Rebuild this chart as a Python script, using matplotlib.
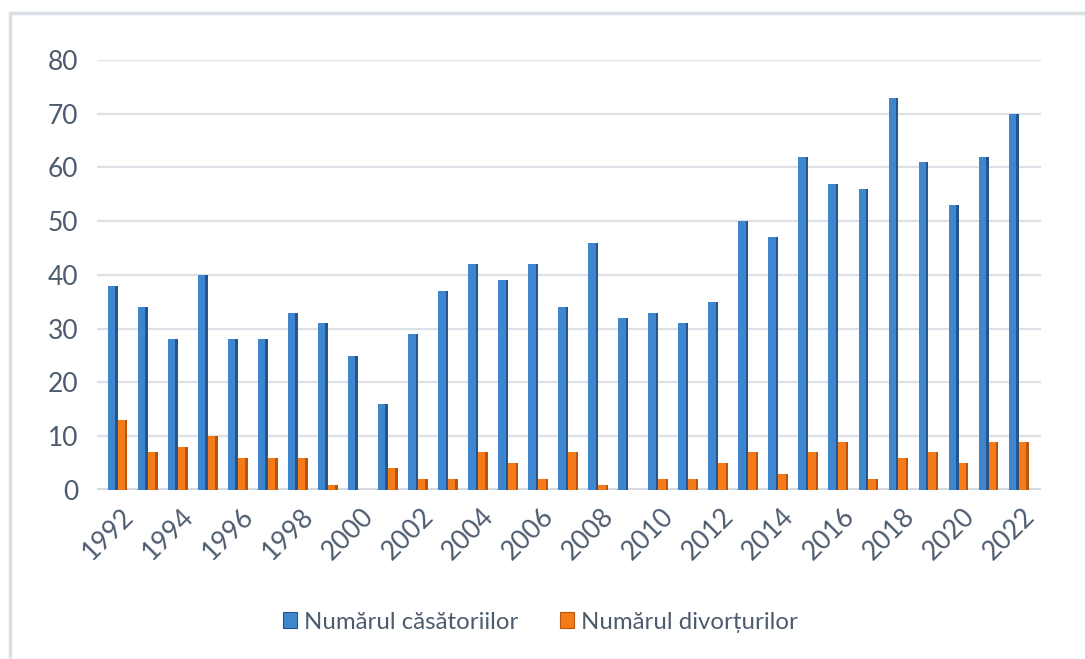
import numpy as np
import matplotlib.pyplot as plt
from matplotlib.patches import Patch, Rectangle
from matplotlib.transforms import ScaledTranslation

plt.rcParams['font.family'] = ['Lato', 'DejaVu Sans']

years = list(range(1992, 2023))
casatorii = [38, 34, 28, 40, 28, 28, 33, 31, 25, 16, 29, 37, 42, 39, 42, 34,
             46, 32, 33, 31, 35, 50, 47, 62, 57, 56, 73, 61, 53, 62, 70]
divorturi = [13, 7, 8, 10, 6, 6, 6, 1, 0, 4, 2, 2, 7, 5, 2, 7,
             1, 0, 2, 2, 5, 7, 3, 7, 9, 2, 6, 7, 5, 9, 9]
labels = ["Numărul căsătoriilor", "Numărul divorțurilor"]

text_col = '#4D5B6E'
blue, blue_side = '#3F86CE', '#24568C'
orange, orange_side = '#F47A1A', '#B9560C'

fig = plt.figure(figsize=(10.85, 6.59), dpi=100)
ax = fig.add_axes([0.089, 0.2565, 0.87, 0.6525])

x = np.arange(len(years))
w = 0.33
side = 0.08

ax.bar(x - w / 2, casatorii, width=w, color=blue, zorder=3)
ax.bar(x - w / 2 + (w - side) / 2, casatorii, width=side, color=blue_side, zorder=3)
ax.bar(x + w / 2, divorturi, width=w, color=orange, zorder=4)
ax.bar(x + w / 2 + (w - side) / 2, divorturi, width=side, color=orange_side, zorder=4)

ax.set_ylim(0, 80)
ax.set_xlim(-0.7, 30.73)
ax.set_yticks(range(0, 81, 10))
ax.yaxis.grid(True, color='#DDE1E7', linewidth=1.6, zorder=0)
ax.axhline(0, color='#D5DAE1', linewidth=3, zorder=2)
for s in ax.spines.values():
    s.set_visible(False)

ax.set_xticks(x[::2])
ax.set_xticklabels([str(y) for y in years[::2]], rotation=45, ha='right',
                   va='top', rotation_mode='anchor')
ax.tick_params(axis='both', length=0, labelsize=19, colors=text_col)
ax.tick_params(axis='y', pad=13)
ax.tick_params(axis='x', pad=10)
off = ScaledTranslation(3 / 100, 0, fig.dpi_scale_trans)
for lab in ax.get_xticklabels():
    lab.set_transform(lab.get_transform() + off)

handles = [Patch(facecolor=blue, edgecolor=blue_side, linewidth=0.8),
           Patch(facecolor=orange, edgecolor=orange_side, linewidth=0.8)]
fig.legend(handles, labels, loc='center', bbox_to_anchor=(0.498, 0.056), ncol=2,
           frameon=False, fontsize=17.3, labelcolor=text_col, handlelength=0.6,
           handleheight=0.6, handletextpad=0.3, columnspacing=1.7)

fig.patches.append(Rectangle((10 / 1085, -0.1), 1.2, 1 - 13 / 659 + 0.1,
                             transform=fig.transFigure, fill=False,
                             edgecolor='#DCE1E8', linewidth=2.5))

fig.savefig('out.png', dpi=100)
